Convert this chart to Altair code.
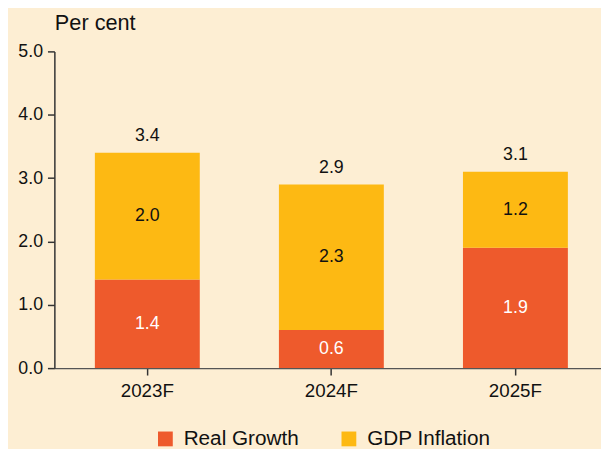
import altair as alt
import pandas as pd

years = ["2023F", "2024F", "2025F"]
real_growth = [1.4, 0.6, 1.9]
gdp_inflation = [2.0, 2.3, 1.2]
totals = [3.4, 2.9, 3.1]
series = ["Real Growth", "GDP Inflation"]
colors = ["#EE5A2C", "#FDB913"]
y_ticks = [0.0, 1.0, 2.0, 3.0, 4.0, 5.0]

rows = []
for i, yr in enumerate(years):
    base = 0.0
    for s, vals, order in ((series[0], real_growth, 0), (series[1], gdp_inflation, 1)):
        v = vals[i]
        rows.append({"year": yr, "series": s, "y0": base, "y1": base + v,
                     "mid": base + v / 2, "value": v, "order": order,
                     "label": f"{v:.1f}"})
        base += v
df = pd.DataFrame(rows)
tot = pd.DataFrame({"year": years, "total": totals,
                    "label": [f"{t:.1f}" for t in totals]})

FONT = "Liberation Sans"

xscale = alt.Scale(paddingInner=0.43, paddingOuter=0.2, align=0.55)

x = alt.X("year:N", sort=years, title=None, scale=xscale,
          axis=alt.Axis(labelAngle=0, labelFontSize=19, labelColor="#111",
                        labelFont=FONT, labelPadding=7, tickSize=7,
                        tickColor="#333", tickWidth=1.5, domainColor="#555",
                        domainWidth=1.5, grid=False))

bars = alt.Chart(df).mark_bar().encode(
    x=x,
    y=alt.Y("y0:Q", scale=alt.Scale(domain=[0, 5], nice=False),
            axis=alt.Axis(values=y_ticks, format=".1f", labelFontSize=18,
                          labelFont=FONT, labelColor="#111", labelPadding=5,
                          tickSize=7, tickColor="#333", tickWidth=1.5,
                          domainColor="#333", domainWidth=1.5, grid=False,
                          title="Per cent", titleAngle=0, titleAlign="left",
                          titleBaseline="alphabetic", titleX=0, titleY=-22,
                          titleFontSize=22, titleFontWeight="normal",
                          titleFont=FONT, titleColor="#111")),
    y2="y1:Q",
    color=alt.Color("series:N", sort=series,
                    scale=alt.Scale(domain=series, range=colors),
                    legend=alt.Legend(title=None, orient="none", legendX=102,
                                      legendY=382, direction="horizontal",
                                      symbolType="square", symbolSize=225,
                                      symbolStrokeWidth=0, labelFontSize=21,
                                      labelFont=FONT, labelColor="#111",
                                      labelOffset=8, columnPadding=40,
                                      padding=0)),
    order="order:Q",
)

inner = alt.Chart(df).mark_text(fontSize=18, font=FONT, baseline="middle").encode(
    x=alt.X("year:N", sort=years, scale=xscale),
    y=alt.Y("mid:Q"),
    text="label:N",
    color=alt.Color("series:N", scale=alt.Scale(domain=series, range=["#FFFFFF", "#111111"]),
                    legend=None),
)

top = alt.Chart(tot).mark_text(fontSize=18, font=FONT, baseline="alphabetic",
                               dy=-12, color="#111").encode(
    x=alt.X("year:N", sort=years, scale=xscale),
    y=alt.Y("total:Q"),
    text="label:N",
)

chart = alt.layer(bars, inner, top).resolve_scale(color="independent").properties(
    width=554, height=321,
    padding={"left": 47, "top": 41, "right": 0, "bottom": 80},
    autosize=alt.AutoSizeParams(type="none"),
    background="#FDEED3",
).configure_view(stroke=None)

chart.save("out.html", embed_options={"renderer": "svg", "actions": False})
